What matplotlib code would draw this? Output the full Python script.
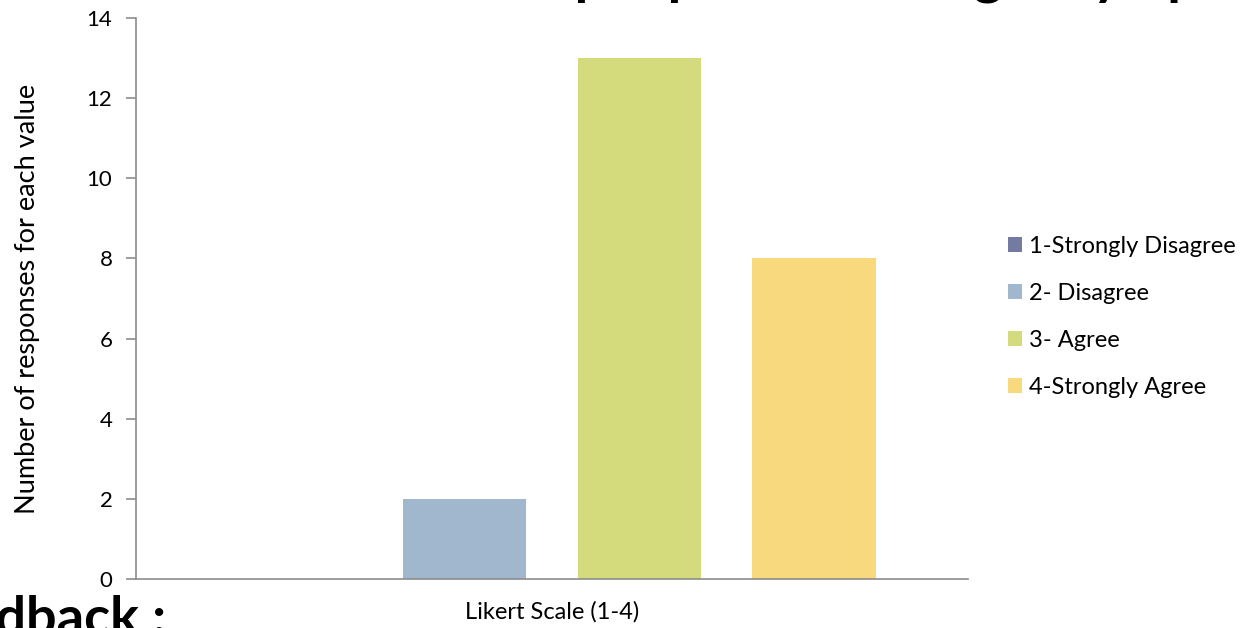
import matplotlib
matplotlib.use("Agg")
import matplotlib.pyplot as plt
from matplotlib.patches import Patch

series = ["1-Strongly Disagree", "2- Disagree", "3- Agree", "4-Strongly Agree"]
values = [0, 2, 13, 8]
colors = ["#737BA3", "#A0B7CD", "#D4DB7C", "#F9D97D"]
category = "Likert Scale (1-4)"
yticks = [0, 2, 4, 6, 8, 10, 12, 14]
title_prefix = "How other "
title_rest = "people can change my opinion"
side_text = "Feedback :"

plt.rcParams['font.family'] = ['Lato', 'DejaVu Sans']

fig = plt.figure(figsize=(12.47, 6.28), dpi=100)
W, H = 1247, 628
ax = fig.add_axes([136 / W, 1 - 579 / H, (968 - 136) / W, (579 - 18) / H])

step = 0.2103
width = 0.149
for i, (s, v, c) in enumerate(zip(series, values, colors)):
    ax.bar((i - 1.5) * step, v, width=width, color=c, label=s)

ax.set_xlim(-0.5, 0.5)
ax.set_ylim(0, 14)
ax.set_yticks(yticks)
ax.set_yticklabels([str(t) for t in yticks], fontsize=16)
ax.set_xticks([])
for side in ["top", "right"]:
    ax.spines[side].set_visible(False)
for side in ["left", "bottom"]:
    ax.spines[side].set_color("#8C8C8C")
    ax.spines[side].set_linewidth(1.2)
ax.tick_params(axis="y", colors="#8C8C8C", labelcolor="black", length=7, width=1.2, pad=10)

ax.set_ylabel("Number of responses for each value", fontsize=19.5)
ax.yaxis.set_label_coords(-0.115, 0.5)
fig.text(552 / W, 1 - 612 / H, category, fontsize=17, ha="center", va="center")

handles = [Patch(facecolor=c, edgecolor="none") for c in colors]
leg = fig.legend(handles, series, loc="upper left", bbox_to_anchor=(1008 / W, 1 - 236 / H),
                 frameon=False, fontsize=17, handlelength=0.6, handleheight=0.6,
                 handletextpad=0.3, labelspacing=1.1, borderaxespad=0, borderpad=0)

# cut-off title (only descenders visible): place so first "p" of "people" lands near x=565
renderer = fig.canvas.get_renderer()
tmp = fig.text(0, 0, title_prefix, fontsize=40, fontweight="bold")
pre_w = tmp.get_window_extent(renderer).width
tmp.remove()
x0 = 575 - pre_w
fig.text(x0 / W, 1.0 + 6 / H, title_prefix + title_rest, fontsize=40,
         fontweight="bold", ha="left", va="baseline")
fig.text(166 / W, 1 - 635 / H, side_text, fontsize=39, fontweight="bold",
         ha="right", va="baseline")

fig.savefig("out.png", dpi=100)
